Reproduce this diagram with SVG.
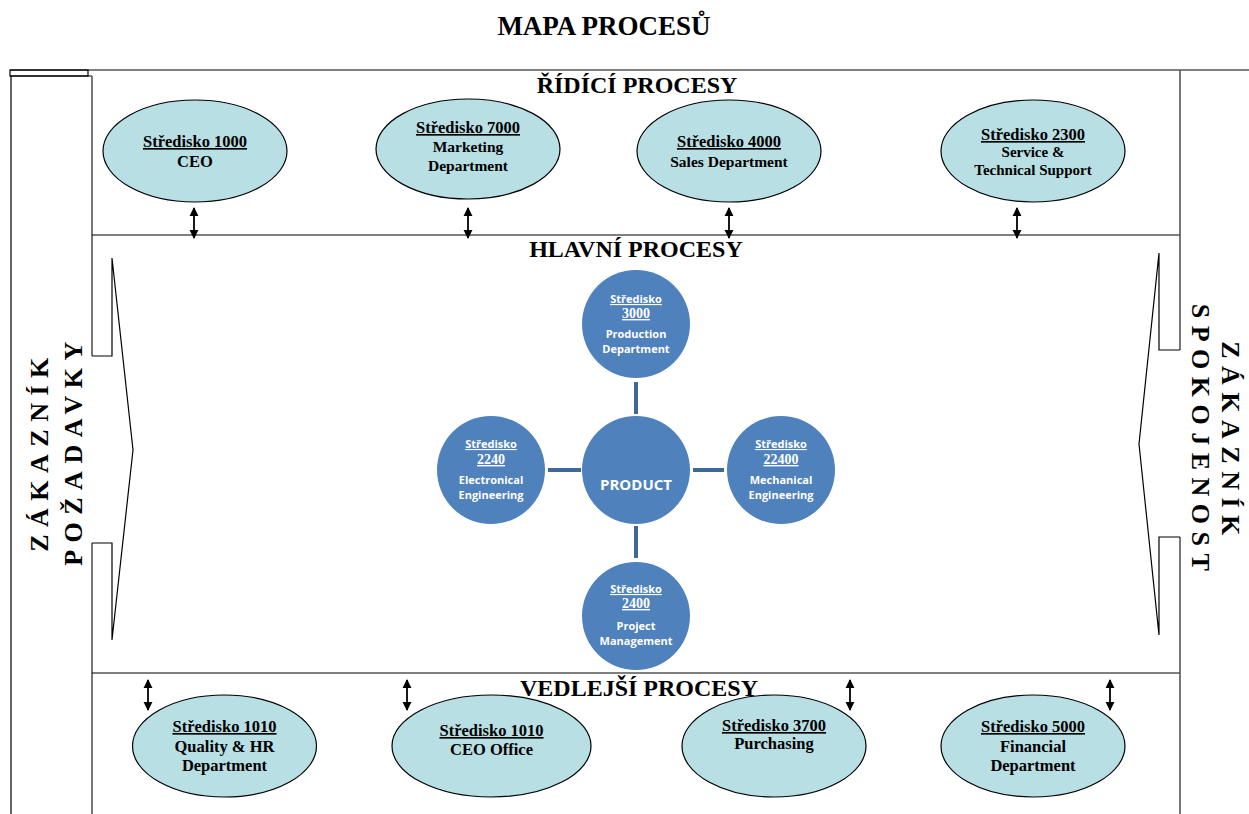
<svg xmlns="http://www.w3.org/2000/svg" width="1249" height="814" viewBox="0 0 1249 814">
<style>
.ln{fill:none;stroke:#000;stroke-width:1.2}
.gr{fill:none;stroke:#555;stroke-width:1.6}
.hd{font-family:"Liberation Serif",serif;font-weight:bold;font-size:24px;fill:#000;text-anchor:middle}
.side{font-family:"Liberation Serif",serif;font-weight:bold;font-size:26px;fill:#000;text-anchor:middle;letter-spacing:7.5px}
.el{fill:#B8DFE3;stroke:#000;stroke-width:1.2}
.et{font-family:"Liberation Serif",serif;font-weight:bold;font-size:16.5px;fill:#000;text-anchor:middle}
.es{font-family:"Liberation Serif",serif;font-weight:bold;font-size:15.5px;fill:#000;text-anchor:middle}
.u{text-decoration:underline}
.ci{fill:#4F81BD}
.ct{font-family:"Open Sans",sans-serif;font-weight:bold;font-size:11px;fill:#fff;text-anchor:middle}
.cn{font-family:"Liberation Serif",serif;font-weight:bold;font-size:14px;fill:#fff;text-anchor:middle;text-decoration:underline}
.cc{stroke:#3F6797;stroke-width:4;fill:none}
.ar{stroke:#000;stroke-width:1.8;fill:none;marker-start:url(#ah);marker-end:url(#ah)}
</style>
<defs>
<marker id="ah" viewBox="0 0 10 10" refX="9" refY="5" markerWidth="9" markerHeight="11" orient="auto-start-reverse" markerUnits="userSpaceOnUse">
<path d="M0,0 L10,5 L0,10 z" fill="#000"/>
</marker>
</defs>
<rect width="1249" height="814" fill="#fff"/>
<text class="hd" x="604" y="35" style="font-size:27px">MAPA PROCESŮ</text>

<g id="frame">
<path class="ln" d="M10,70 H1249"/>
<rect class="ln" x="10" y="70" width="78" height="6"/>
<path class="ln" d="M11,814 V76 H92"/>
<path class="gr" d="M92,76 V356"/>
<path class="gr" d="M92,543 V814"/>
<path class="ln" d="M92,356 H112 V258 L133,450 L112,640 V543 H92"/>
<path class="ln" d="M92,235 H1180"/>
<path class="ln" d="M92,673 H1180"/>
<path class="gr" d="M1180,70 V350"/>
<path class="gr" d="M1180,537 V814"/>
<path class="ln" d="M1180,350 H1159 V253 L1139,444 L1159,635 V537 H1180"/>
</g>

<g id="headers">
<text class="hd" x="637" y="93">ŘÍDÍCÍ PROCESY</text>
<text class="hd" x="636" y="257">HLAVNÍ PROCESY</text>
<text class="hd" x="639" y="696">VEDLEJŠÍ PROCESY</text>
</g>

<g id="customer-left">
<text class="side" transform="translate(48,451) rotate(-90)">ZÁKAZNÍK</text>
<text class="side" transform="translate(82,450) rotate(-90)">POŽADAVKY</text>
</g>
<g id="customer-right">
<text class="side" transform="translate(1222,442) rotate(90)">ZÁKAZNÍK</text>
<text class="side" transform="translate(1192,441) rotate(90)">SPOKOJENOST</text>
</g>

<g id="connectors">
<path class="ar" d="M194,208 V238"/>
<path class="ar" d="M468,208 V238"/>
<path class="ar" d="M729,208 V238"/>
<path class="ar" d="M1017,208 V238"/>
<path class="ar" d="M148,680 V710"/>
<path class="ar" d="M407,680 V710"/>
<path class="ar" d="M850,680 V710"/>
<path class="ar" d="M1110,680 V710"/>
<path class="cc" d="M636,382 V414"/>
<path class="cc" d="M636,526 V558"/>
<path class="cc" d="M548,470 H581"/>
<path class="cc" d="M693,470 H724"/>
</g>

<g id="s1000">
<ellipse class="el" cx="195" cy="151" rx="92" ry="51"/>
<text class="et u" x="195" y="147">Středisko 1000</text>
<text class="et" x="195" y="167">CEO</text>
</g>
<g id="s7000">
<ellipse class="el" cx="468" cy="149" rx="92" ry="50"/>
<text class="et u" x="468" y="133">Středisko 7000</text>
<text class="es" x="468" y="152">Marketing</text>
<text class="es" x="468" y="171">Department</text>
</g>
<g id="s4000">
<ellipse class="el" cx="729" cy="151" rx="92" ry="51"/>
<text class="et u" x="729" y="147">Středisko 4000</text>
<text class="es" x="729" y="167">Sales Department</text>
</g>
<g id="s2300">
<ellipse class="el" cx="1033" cy="151" rx="92" ry="51"/>
<text class="et u" x="1033" y="140">Středisko 2300</text>
<text class="es" x="1033" y="157" style="font-size:15px">Service &amp;</text>
<text class="es" x="1033" y="175" style="font-size:15px">Technical Support</text>
</g>

<g id="s3000">
<circle class="ci" cx="636" cy="324" r="54"/>
<text class="ct u" x="636" y="303">Středisko</text>
<text class="cn" x="636" y="318">3000</text>
<text class="ct" x="636" y="338">Production</text>
<text class="ct" x="636" y="353">Department</text>
</g>
<g id="product">
<circle class="ci" cx="636" cy="470" r="54"/>
<text class="ct" x="636" y="490" style="font-size:15px">PRODUCT</text>
</g>
<g id="s2240">
<circle class="ci" cx="491" cy="470" r="54"/>
<text class="ct u" x="491" y="448">Středisko</text>
<text class="cn" x="491" y="464">2240</text>
<text class="ct" x="491" y="484">Electronical</text>
<text class="ct" x="491" y="499">Engineering</text>
</g>
<g id="s22400">
<circle class="ci" cx="781" cy="470" r="54"/>
<text class="ct u" x="781" y="448">Středisko</text>
<text class="cn" x="781" y="464">22400</text>
<text class="ct" x="781" y="484">Mechanical</text>
<text class="ct" x="781" y="499">Engineering</text>
</g>
<g id="s2400">
<circle class="ci" cx="636" cy="616" r="54"/>
<text class="ct u" x="636" y="593">Středisko</text>
<text class="cn" x="636" y="608">2400</text>
<text class="ct" x="636" y="630">Project</text>
<text class="ct" x="636" y="645">Management</text>
</g>

<g id="s1010a">
<ellipse class="el" cx="224.5" cy="746" rx="92" ry="51"/>
<text class="et u" x="224.5" y="732">Středisko 1010</text>
<text class="et" x="224.5" y="752">Quality &amp; HR</text>
<text class="et" x="224.5" y="771">Department</text>
</g>
<g id="s1010b">
<ellipse class="el" cx="491.5" cy="746" rx="99.5" ry="51"/>
<text class="et u" x="491.5" y="736">Středisko 1010</text>
<text class="et" x="491.5" y="755">CEO Office</text>
</g>
<g id="s3700">
<ellipse class="el" cx="774" cy="746" rx="92" ry="51"/>
<text class="et u" x="774" y="731">Středisko 3700</text>
<text class="et" x="774" y="749">Purchasing</text>
</g>
<g id="s5000">
<ellipse class="el" cx="1033" cy="746" rx="92" ry="51"/>
<text class="et u" x="1033" y="732">Středisko 5000</text>
<text class="et" x="1033" y="752">Financial</text>
<text class="et" x="1033" y="771">Department</text>
</g>
</svg>
